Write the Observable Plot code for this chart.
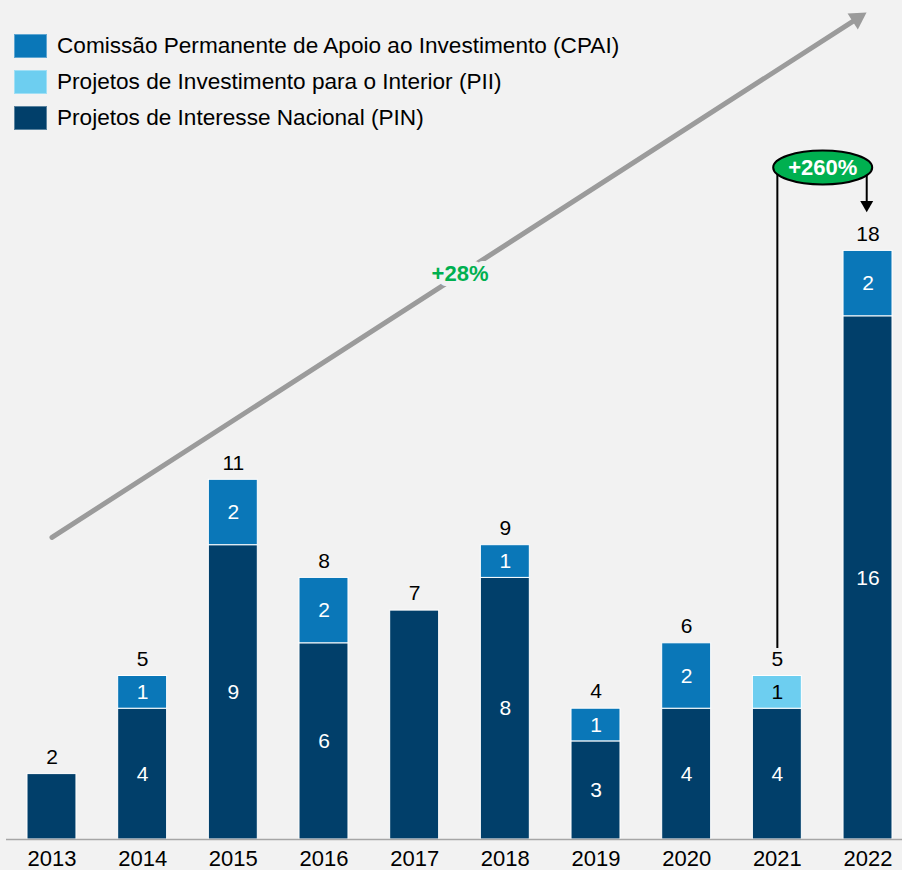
<!DOCTYPE html>
<html>
<head>
<meta charset="utf-8">
<script src="https://cdn.jsdelivr.net/npm/d3@7"></script>
<script src="https://cdn.jsdelivr.net/npm/@observablehq/plot@0.6"></script>
<style>
  html, body { margin: 0; padding: 0; background: #f2f2f2; overflow: hidden; }
  body { font-family: "Liberation Sans", Arial, sans-serif; }
  #wrap { position: relative; width: 902px; height: 870px; }
  #legend { position: absolute; left: 14px; top: 34px; }
  .item { display: flex; align-items: center; height: 24px; margin-bottom: 12px; font-size: 22.6px; color: #000; white-space: nowrap; }
  .sw { width: 33px; height: 24px; margin-right: 10px; box-sizing: border-box; border: 1px solid rgba(255,255,255,0.35); }
</style>
</head>
<body>
<div id="wrap"><div id="chart"></div><div id="legend"></div></div>
<script>
// ---- data ----
const years = ["2013","2014","2015","2016","2017","2018","2019","2020","2021","2022"];
const pin  = [2, 4, 9, 6, 7, 8, 3, 4, 4, 16];
const pii  = [0, 0, 0, 0, 0, 0, 0, 0, 1, 0];
const cpai = [0, 1, 2, 2, 0, 1, 1, 2, 0, 2];
const seriesKeys  = ["CPAI", "PII", "PIN"];
const seriesNames = [
  "Comissão Permanente de Apoio ao Investimento (CPAI)",
  "Projetos de Investimento para o Interior (PII)",
  "Projetos de Interesse Nacional (PIN)"
];
const seriesColors = ["#0a77b8", "#6dcef0", "#013f6a"];
const trendLabel = "+28%";
const jumpLabel = "+260%";

// ---- tables ----
const rows = [];
years.forEach((y, i) => {
  const multi = [pin[i], pii[i], cpai[i]].filter(v => v > 0).length > 1;
  if (pin[i])  rows.push({year: y, key: "PIN",  value: pin[i],  show: multi});
  if (pii[i])  rows.push({year: y, key: "PII",  value: pii[i],  show: multi});
  if (cpai[i]) rows.push({year: y, key: "CPAI", value: cpai[i], show: multi});
});
const totals = years.map((y, i) => ({year: y, total: pin[i] + pii[i] + cpai[i]}));

// annotations (data coordinates)
const trend = [{x1: "2013", y1: 9.24, x2: "2022", y2: 25.32}];
const trendText = [{x: "2017", y: 17.28, t: trendLabel}];
const jump = [{x: "2021", y: 20.55, t: jumpLabel}];
const jumpLine = [{x: "2021", y1: 5.84, y2: 20.55}];
const jumpArrow = [{x: "2022", y1: 20.55, y2: 19.3, yHead: 19.41}];

// ellipse symbol
function ellipseSymbol(rx, ry) {
  const k = 0.5522847;
  return {
    draw(ctx) {
      ctx.moveTo(rx, 0);
      ctx.bezierCurveTo(rx, k * ry, k * rx, ry, 0, ry);
      ctx.bezierCurveTo(-k * rx, ry, -rx, k * ry, -rx, 0);
      ctx.bezierCurveTo(-rx, -k * ry, -k * rx, -ry, 0, -ry);
      ctx.bezierCurveTo(k * rx, -ry, rx, -k * ry, rx, 0);
      ctx.closePath();
    }
  };
}

const chart = Plot.plot({
  width: 902,
  height: 870,
  marginTop: 250.4,
  marginBottom: 31,
  marginLeft: 27,
  marginRight: 10,
  style: {background: "#f2f2f2", fontFamily: "'Liberation Sans', Arial, sans-serif", overflow: "visible"},
  x: {domain: years, paddingInner: 0.46, paddingOuter: 0, round: false},
  y: {domain: [0, 18], axis: null},
  color: {domain: seriesKeys, range: seriesColors},
  marks: [
    Plot.barY(rows, {x: "year", y: "value", fill: "key", stroke: "white", strokeWidth: 1}),
    Plot.ruleY([0], {stroke: "#a6a6a6", strokeWidth: 1.5, insetLeft: -21, insetRight: -10}),
    Plot.axisX({tickSize: 0, tickPadding: 11, fontSize: 22, label: null, fill: "black"}),
    Plot.text(rows, Plot.stackY({x: "year", y: "value", text: d => d.show && d.key !== "PII" ? String(d.value) : null, fill: "white", fontSize: 21})),
    Plot.text(rows, Plot.stackY({x: "year", y: "value", text: d => d.show && d.key === "PII" ? String(d.value) : null, fill: "black", fontSize: 21})),
    Plot.text(totals, {x: "year", y: "total", text: "total", dy: -17, fontSize: 21, fill: "black"}),
    // trend arrow
    Plot.arrow(trend, {x1: "x1", y1: "y1", x2: "x2", y2: "y2", stroke: "#9b9b9b", strokeWidth: 5, headLength: 0, insetEnd: 12}),
    Plot.dot(trend, {x: "x2", y: "y2", symbol: "triangle", r: 7.05, rotate: 57.3, fill: "#9b9b9b", stroke: null, dx: -10.7, dy: 6.9}),
    Plot.text(trendText, {x: "x", y: "y", text: "t", dx: 45.35, fill: "#00b050", fontWeight: "bold", fontSize: 22, stroke: "#f2f2f2", strokeWidth: 10}),
    // jump annotation
    Plot.ruleX(jumpLine, {x: "x", y1: "y1", y2: "y2", stroke: "black", strokeWidth: 2}),
    Plot.ruleX(jumpArrow, {x: "x", y1: "y1", y2: "y2", stroke: "black", strokeWidth: 2, dx: -1.3}),
    Plot.dot(jumpArrow, {x: "x", y: "yHead", symbol: "triangle", r: 4.82, rotate: 180, fill: "black", stroke: null, dx: -1.3}),
    Plot.dot(jump, {x: "x", y: "y", symbol: ellipseSymbol(49.5, 17), fill: "#00b050", stroke: "black", strokeWidth: 2, dx: 45.35}),
    Plot.text(jump, {x: "x", y: "y", text: "t", dx: 45.35, fill: "white", fontWeight: "bold", fontSize: 22})
  ]
});
document.getElementById("chart").appendChild(chart);

const legend = document.getElementById("legend");
seriesKeys.forEach((k, i) => {
  const item = document.createElement("div");
  item.className = "item";
  const sw = document.createElement("div");
  sw.className = "sw";
  sw.style.background = seriesColors[i];
  const label = document.createElement("span");
  label.textContent = seriesNames[i];
  item.appendChild(sw);
  item.appendChild(label);
  legend.appendChild(item);
});
</script>
</body>
</html>
